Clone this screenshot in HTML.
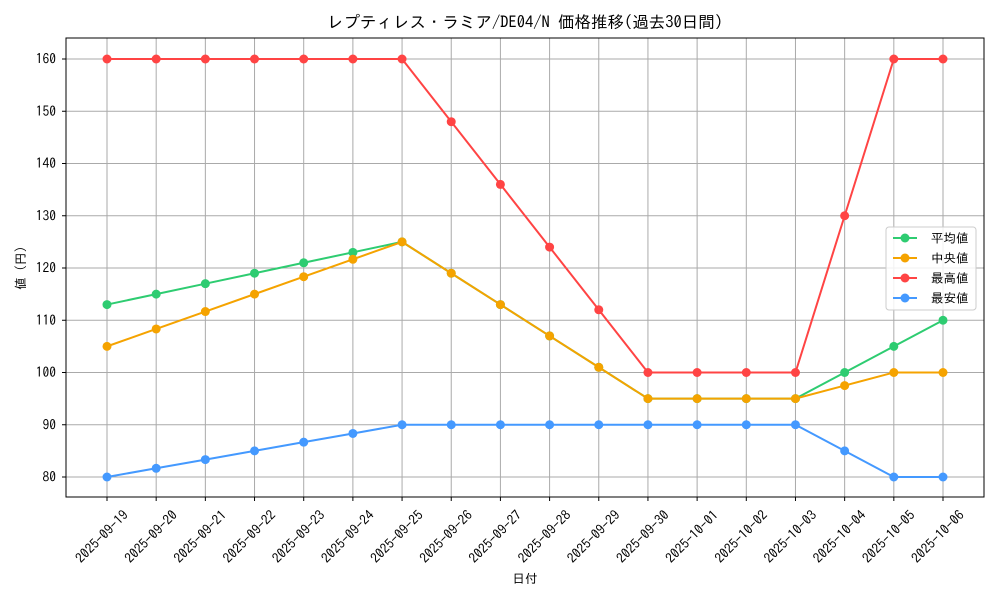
<!DOCTYPE html>
<html><head><meta charset="utf-8"><style>
html,body{margin:0;padding:0;background:#fff;}
svg text{font-family:"IPAGothic","Liberation Sans","Noto Sans CJK JP",sans-serif;fill:#000;}
</style></head><body>
<svg id="c" width="1000" height="600" xmlns="http://www.w3.org/2000/svg"></svg>
<script>
const s=document.getElementById('c');
let h='';
const X0=107,DX=(943-107)/17;
const y=v=>59+(160-v)*5.225;
const dates=['2025-09-19','2025-09-20','2025-09-21','2025-09-22','2025-09-23','2025-09-24','2025-09-25','2025-09-26','2025-09-27','2025-09-28','2025-09-29','2025-09-30','2025-10-01','2025-10-02','2025-10-03','2025-10-04','2025-10-05','2025-10-06'];
h+='<rect x="0" y="0" width="1000" height="600" fill="#fff"/>';
for(let i=0;i<18;i++){const x=X0+i*DX;h+=`<line x1="${x}" y1="38" x2="${x}" y2="497" stroke="#aaaaaa" stroke-width="1"/>`;
h+=`<line x1="${x}" y1="497" x2="${x}" y2="501" stroke="#000"/>`;
h+=`<text transform="translate(${x+22},516) rotate(-45)" text-anchor="end" font-size="13.5">${dates[i]}</text>`;}
for(let v=80;v<=160;v+=10){const yy=y(v);h+=`<line x1="66" y1="${yy}" x2="984" y2="${yy}" stroke="#aaaaaa" stroke-width="1"/>`;
h+=`<line x1="62" y1="${yy}" x2="66" y2="${yy}" stroke="#000"/>`;
h+=`<text x="56" y="${yy+4.5}" text-anchor="end" font-size="13.5">${v}</text>`;}
const ser=[
['#2ecc71',[113,115,117,119,121,123,125,119,113,107,101,95,95,95,95,100,105,110]],
['#f5a300',[105,108.33,111.67,115,118.33,121.67,125,119,113,107,101,95,95,95,95,97.5,100,100]],
['#ff4444',[160,160,160,160,160,160,160,148,136,124,112,100,100,100,100,130,160,160]],
['#4499ff',[80,81.67,83.33,85,86.67,88.33,90,90,90,90,90,90,90,90,90,85,80,80]]];
for(const [c,d] of ser){h+=`<polyline fill="none" stroke="${c}" stroke-width="2" points="${d.map((v,i)=>(X0+i*DX)+','+y(v)).join(' ')}"/>`;
d.forEach((v,i)=>h+=`<circle cx="${X0+i*DX}" cy="${y(v)}" r="4.5" fill="${c}"/>`);}
h+='<rect x="66" y="38" width="918" height="459" fill="none" stroke="#000" stroke-width="1"/>';
h+='<text x="525" y="28" text-anchor="middle" font-size="16.5">レプティレス・ラミア/DE04/N 価格推移(過去30日間)</text>';
h+='<text x="525" y="583" text-anchor="middle" font-size="12.5">日付</text>';
h+='<text transform="translate(25,268) rotate(-90)" text-anchor="middle" font-size="12.5">値 (円)</text>';
h+='<rect x="886" y="227" width="90" height="83" rx="3" fill="#fff" fill-opacity="0.85" stroke="#ccc"/>';
const names=['平均値','中央値','最高値','最安値'];
names.forEach((n,i)=>{const yy=238+i*20;const c=ser[i][0];
h+=`<line x1="893" y1="${yy}" x2="917" y2="${yy}" stroke="${c}" stroke-width="2"/><circle cx="905" cy="${yy}" r="4.5" fill="${c}"/>`;
h+=`<text x="931" y="${yy+4.5}" font-size="12.5">${n}</text>`;});
s.innerHTML=h;
</script>
</body></html>
